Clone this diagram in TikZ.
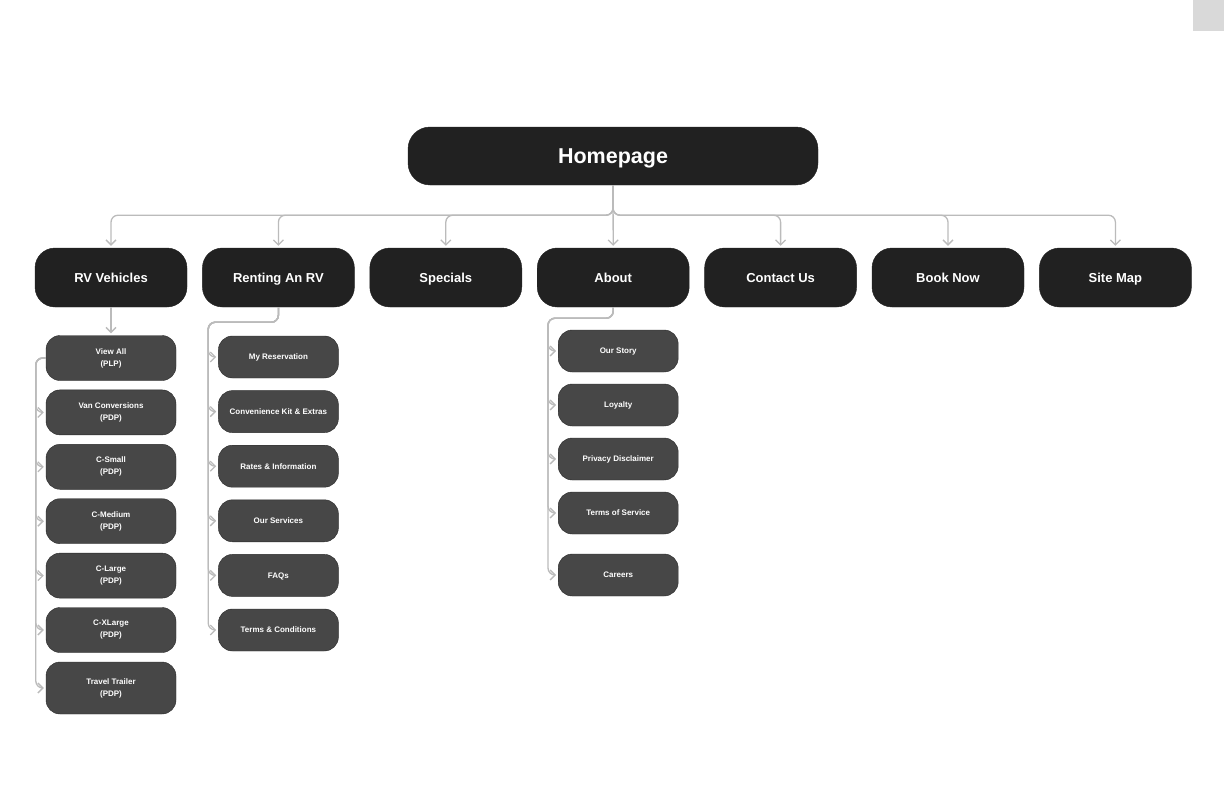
\documentclass[tikz,border=0pt]{standalone}
\usepackage{fontspec}
\setmainfont{Liberation Sans}
\usetikzlibrary{arrows.meta, positioning}

\definecolor{topfill}{HTML}{212121}
\definecolor{subfill}{HTML}{474747}
\definecolor{subline}{HTML}{2A2A2A}
\definecolor{linkgray}{HTML}{BBBBBB}
\definecolor{cornergray}{HTML}{D9D9D9}

\tikzset{
	home/.style={draw=topfill, fill=topfill, rounded corners=22pt, minimum width=410pt, minimum height=58pt, text=white, text height=15.5pt, text depth=0pt, font=\fontsize{21.5}{24}\selectfont\bfseries},
	section/.style={draw=topfill, fill=topfill, rounded corners=20pt, minimum width=152pt, minimum height=59pt, text=white, text height=9.5pt, text depth=0pt, font=\fontsize{13}{16}\selectfont\bfseries},
	page/.style={draw=subline, fill=subfill, rounded corners=14pt, minimum width=130pt, minimum height=45pt, text=white, align=center, font=\fontsize{8}{12}\selectfont\bfseries},
	smallpage/.style={page, minimum width=120pt, minimum height=42pt, text height=5.8pt, text depth=0pt},
	link/.style={every edge/.style={draw=linkgray, line width=1.3pt, rounded corners=7pt, ->, shorten >=2pt}},
	fan/.style={to path={-- ++(0,-30pt) -| (\tikztotarget)}},
	stack/.style={to path={-- ++(-10pt,0) |- (\tikztotarget)}},
	drop/.style={to path={-- ++(0,-#1) -| ([xshift=-10pt]\tikztotarget) -- (\tikztotarget)}}
}

\begin{document}
\begin{tikzpicture}[on grid, >={Straight Barb[length=5pt,width=10pt]}]
	\useasboundingbox (0,0) rectangle (1224pt,-792pt);
	\fill[cornergray] (1193pt,0) rectangle (1224pt,-31pt);
	
	\node (home) [home] at (613pt,-156pt) {Homepage};
	
	% main sections
	\node (rv) [section] at (111pt,-277.5pt) {RV Vehicles};
	\node (rent) [section, right=167.4pt of rv] {Renting An RV};
	\node (specials) [section, right=167.4pt of rent] {Specials};
	\node (about) [section, right=167.4pt of specials] {About};
	\node (contact) [section, right=167.4pt of about] {Contact Us};
	\node (book) [section, right=167.4pt of contact] {Book Now};
	\node (sitemap) [section, right=167.4pt of book] {Site Map};
	
	% vehicles
	\node (viewall) [page, below=80.5pt of rv] {View All\\(PLP)};
	\node (van) [page, below=54.4pt of viewall] {Van Conversions\\(PDP)};
	\node (csmall) [page, below=54.4pt of van] {C-Small\\(PDP)};
	\node (cmedium) [page, below=54.4pt of csmall] {C-Medium\\(PDP)};
	\node (clarge) [page, below=54.4pt of cmedium] {C-Large\\(PDP)};
	\node (cxlarge) [page, below=54.4pt of clarge] {C-XLarge\\(PDP)};
	\node (trailer) [page, minimum height=52pt, below=58pt of cxlarge] {Travel Trailer\\(PDP)};
	
	% renting
	\node (reserv) [smallpage, below=79.5pt of rent] {My Reservation};
	\node (kit) [smallpage, below=54.6pt of reserv] {Convenience Kit \& Extras};
	\node (rates) [smallpage, below=54.6pt of kit] {Rates \& Information};
	\node (services) [smallpage, below=54.6pt of rates] {Our Services};
	\node (faqs) [smallpage, below=54.6pt of services] {FAQs};
	\node (terms) [smallpage, below=54.6pt of faqs] {Terms \& Conditions};
	
	% about
	\node (story) [smallpage, xshift=5pt, below=73.5pt of about] {Our Story};
	\node (loyalty) [smallpage, below=54pt of story] {Loyalty};
	\node (privacy) [smallpage, below=54pt of loyalty] {Privacy Disclaimer};
	\node (tos) [smallpage, below=54pt of privacy] {Terms of Service};
	\node (careers) [smallpage, below=62pt of tos] {Careers};
	
	\path [link]
	(home.south) edge [fan] (rv.north)
	(home.south) edge [fan] (rent.north)
	(home.south) edge [fan] (specials.north)
	(home.south) edge (about.north)
	(home.south) edge [fan] (contact.north)
	(home.south) edge [fan] (book.north)
	(home.south) edge [fan] (sitemap.north);
	
	\path [link]
	(rv.south) edge (viewall.north)
	(viewall.west) edge [stack] (van.west)
	(viewall.west) edge [stack] (csmall.west)
	(viewall.west) edge [stack] (cmedium.west)
	(viewall.west) edge [stack] (clarge.west)
	(viewall.west) edge [stack] (cxlarge.west)
	(viewall.west) edge [stack] (trailer.west);
	
	\path [link]
	(rent.south) edge [drop=15pt] (reserv.west)
	(rent.south) edge [drop=15pt] (kit.west)
	(rent.south) edge [drop=15pt] (rates.west)
	(rent.south) edge [drop=15pt] (services.west)
	(rent.south) edge [drop=15pt] (faqs.west)
	(rent.south) edge [drop=15pt] (terms.west);
	
	\path [link]
	(about.south) edge [drop=11pt] (story.west)
	(about.south) edge [drop=11pt] (loyalty.west)
	(about.south) edge [drop=11pt] (privacy.west)
	(about.south) edge [drop=11pt] (tos.west)
	(about.south) edge [drop=11pt] (careers.west);
	
\end{tikzpicture}
\end{document}
